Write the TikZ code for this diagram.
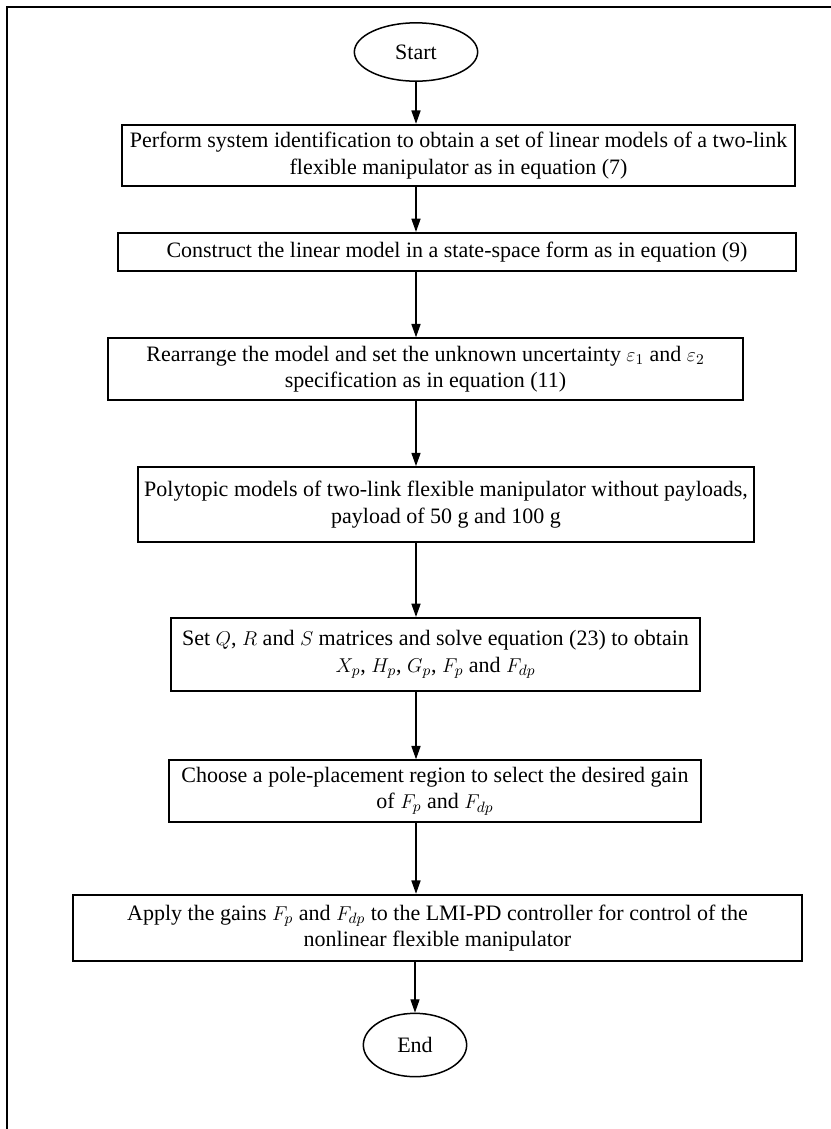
\documentclass[tikz,border=0pt]{standalone}
\usepackage{amsmath,amssymb}
\usepackage{fontspec}
\setmainfont{Liberation Serif}
\usepackage{tikz}
\usetikzlibrary{
  arrows.meta,
  shapes.geometric,
  positioning,
  calc
}

\begin{document}
\begin{tikzpicture}[
  x=0.6pt, y=-0.6pt,
  box/.style={draw=black, line width=1.1pt, minimum width=#1, minimum height=37pt,
              font=\fontsize{13.2}{15.8}\selectfont, align=center, inner sep=1pt},
  term/.style={draw=black, ellipse, line width=0.9pt, minimum width=#1, minimum height=35pt,
               inner sep=0pt, font=\fontsize{13.2}{15}\selectfont},
  arr/.style={-{Triangle[length=8pt,width=5.5pt]}, line width=0.7pt, color=black}
]
  \useasboundingbox (0,0) rectangle (831,1129);
  % frame of the figure (cut at the right and bottom)
  \draw[line width=1pt] (7,1129) -- (7,7) -- (831,7);

  % flow chart
  \node[term=74pt] (start) at (416,52) {Start};
  \node[box=404pt] (ident) at (458.5,155.5)
    {Perform system identification to obtain a set of linear models of a two-link\\
     flexible manipulator as in equation (7)};
  \node[box=407pt, minimum height=23pt] (model) at (457,252)
    {Construct the linear model in a state-space form as in equation (9)};
  \node[box=381pt] (uncert) at (425.5,369)
    {Rearrange the model and set the unknown uncertainty $\varepsilon_1$ and $\varepsilon_2$\\
     specification as in equation (11)};
  \node[box=370pt, minimum height=45pt] (poly) at (446,504.5)
    {Polytopic models of two-link flexible manipulator without payloads,\\
     payload of 50 g and 100 g};
  \node[box=317pt, minimum height=44pt] (lmi) at (435.5,654.5)
    {Set $Q$, $R$ and $S$ matrices and solve equation (23) to obtain\\
     $X_p$, $H_p$, $G_p$, $F_p$ and $F_{dp}$};
  \node[box=319pt] (pole) at (435,791)
    {Choose a pole-placement region to select the desired gain\\
     of $F_p$ and $F_{dp}$};
  \node[box=437pt, minimum height=40pt] (apply) at (437.5,928)
    {Apply the gains $F_p$ and $F_{dp}$ to the LMI-PD controller for control of the\\
     nonlinear flexible manipulator};
  \node[term=62pt, minimum height=38pt] (stop) at (415,1045) {End};

  \draw[arr] (start.south) -- (start.south |- ident.north);
  \draw[arr] (ident.south -| start.south) -- (start.south |- model.north);
  \draw[arr] (model.south -| start.south) -- (start.south |- uncert.north);
  \draw[arr] (uncert.south -| start.south) -- (start.south |- poly.north);
  \draw[arr] (poly.south -| start.south) -- (start.south |- lmi.north);
  \draw[arr] (lmi.south -| start.south) -- (start.south |- pole.north);
  \draw[arr] (pole.south -| start.south) -- (start.south |- apply.north);
  \draw[arr] (apply.south -| stop.north) -- (stop.north);
\end{tikzpicture}
\end{document}
